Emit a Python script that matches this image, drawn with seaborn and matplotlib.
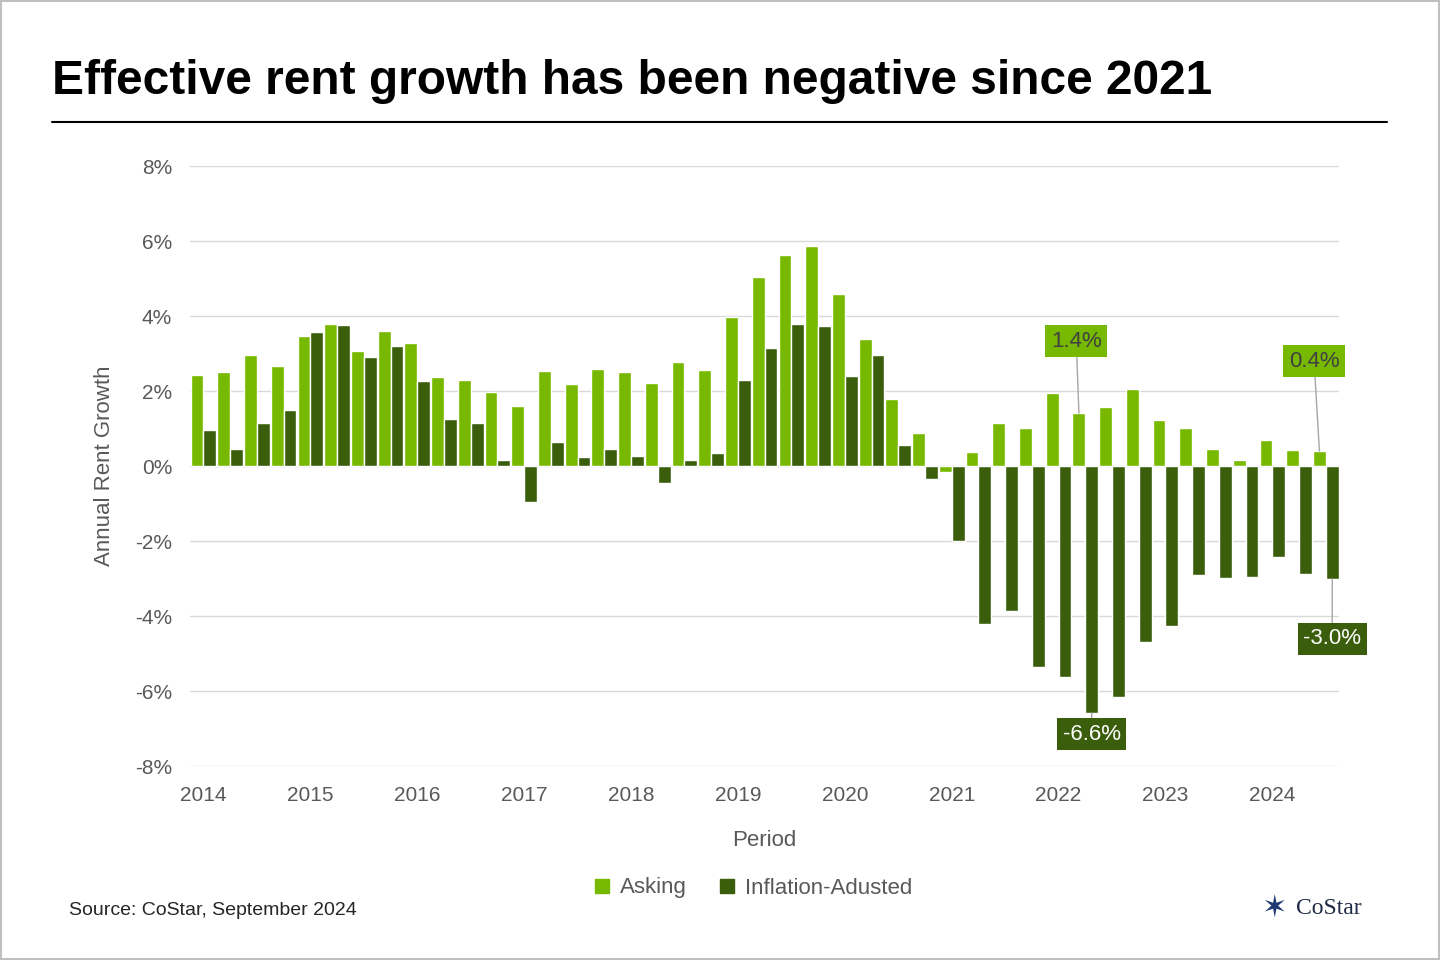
import numpy as np
import pandas as pd
import seaborn as sns
import matplotlib.pyplot as plt
from matplotlib.lines import Line2D

years = list(range(2014, 2025))
quarters = [f"{y}Q{q}" for y in years for q in range(1, 5)][:43]

asking = [2.43, 2.50, 2.96, 2.67, 3.47, 3.79, 3.07, 3.60, 3.28, 2.37, 2.29, 1.97,
          1.60, 2.53, 2.19, 2.59, 2.50, 2.21, 2.77, 2.56, 3.97, 5.04, 5.63, 5.87,
          4.59, 3.39, 1.79, 0.88, -0.16, 0.37, 1.15, 1.01, 1.95, 1.41, 1.57, 2.05,
          1.23, 1.01, 0.45, 0.16, 0.69, 0.43, 0.40]
inflation = [0.96, 0.45, 1.15, 1.49, 3.57, 3.76, 2.90, 3.20, 2.27, 1.25, 1.15, 0.16,
             -0.96, 0.64, 0.24, 0.45, 0.27, -0.45, 0.16, 0.35, 2.29, 3.15, 3.79, 3.73,
             2.40, 2.96, 0.56, -0.35, -2.00, -4.21, -3.87, -5.36, -5.63, -6.59, -6.16, -4.69,
             -4.27, -2.91, -2.99, -2.96, -2.43, -2.88, -3.00]

light = "#77b900"
dark = "#3b5e0c"

df = pd.DataFrame({
    "Period": quarters * 2,
    "Growth": asking + inflation,
    "Series": ["Asking"] * 43 + ["Inflation-Adusted"] * 43,
})

sns.set_style("white")
plt.rcParams['font.family'] = ['Arial', 'Liberation Sans', 'DejaVu Sans']

fig = plt.figure(figsize=(14.4, 9.6), dpi=100)
ax = fig.add_axes([0.132, 0.202, 0.798, 0.625])
w = 0.96
sns.barplot(data=df, x="Period", y="Growth", hue="Series", order=quarters,
            palette=[light, dark], saturation=1, width=w, gap=0.0, ax=ax, legend=False)

ax.set_ylim(-8, 8)
ax.set_xlim(-0.5, 42.5)
ax.set_yticks(range(-8, 9, 2))
ax.set_yticklabels([f"{v}%" for v in range(-8, 9, 2)], fontsize=15, color="#595959")
ax.yaxis.grid(True, color="#d9d9d9", lw=1)
ax.set_axisbelow(True)
ax.set_xticks(range(0, 43, 4))
ax.set_xticklabels([str(y) for y in years], fontsize=15, color="#595959")
ax.tick_params(axis="x", length=0, pad=14)
ax.tick_params(axis="y", length=0, pad=13)
for s in ax.spines.values():
    s.set_visible(False)
ax.set_xlabel("Period", fontsize=16, color="#595959", labelpad=18)
ax.set_ylabel("Annual Rent Growth", fontsize=16, color="#595959", labelpad=14)

off = w / 4
def callout(i, val, ty, color, dx=0):
    xb = i - off if color == light else i + off
    ax.annotate(f"{val:.1f}%", xy=(xb, val), xytext=(xb + dx, ty),
                ha="center", va="center", fontsize=16,
                color="#404040" if color == light else "white",
                bbox=dict(boxstyle="square,pad=0.25", fc=color, ec="none"),
                arrowprops=dict(arrowstyle="-", color="#a6a6a6", lw=1, shrinkA=0, shrinkB=0))

callout(33, asking[33], 3.33, light, dx=-0.1)
callout(42, asking[42], 2.8, light, dx=-0.2)
callout(33, inflation[33], -7.15, dark, dx=0)
callout(42, inflation[42], -4.6, dark, dx=0)

handles = [Line2D([], [], marker="s", ls="", color=light, markersize=10),
           Line2D([], [], marker="s", ls="", color=dark, markersize=10)]
fig.legend(handles, ["Asking", "Inflation-Adusted"], loc="center", bbox_to_anchor=(0.518, 0.075),
           ncol=2, frameon=False, fontsize=16, handletextpad=-0.2, columnspacing=0.8,
           labelcolor="#595959")

fig.text(0.036, 0.915, "Effective rent growth has been negative since 2021",
         fontsize=34.5, fontweight="bold", color="black", va="center")
fig.add_artist(Line2D([0.036, 0.963], [0.873, 0.873], color="black", lw=1.5))
fig.text(0.048, 0.052, "Source: CoStar, September 2024", fontsize=14, va="center")
fig.text(0.9, 0.054, "CoStar", fontsize=17, family="Liberation Serif", va="center", color="#1f2a44")
fig.text(0.885, 0.054, "\u2736", fontsize=22, va="center", color="#1f3a73", ha="center",
         family="DejaVu Sans")
fig.add_artist(plt.Rectangle((0.001, 0.001), 0.998, 0.998, fill=False, ec="#bfbfbf", lw=1.5,
                             transform=fig.transFigure))

fig.savefig("out.png", dpi=100)
